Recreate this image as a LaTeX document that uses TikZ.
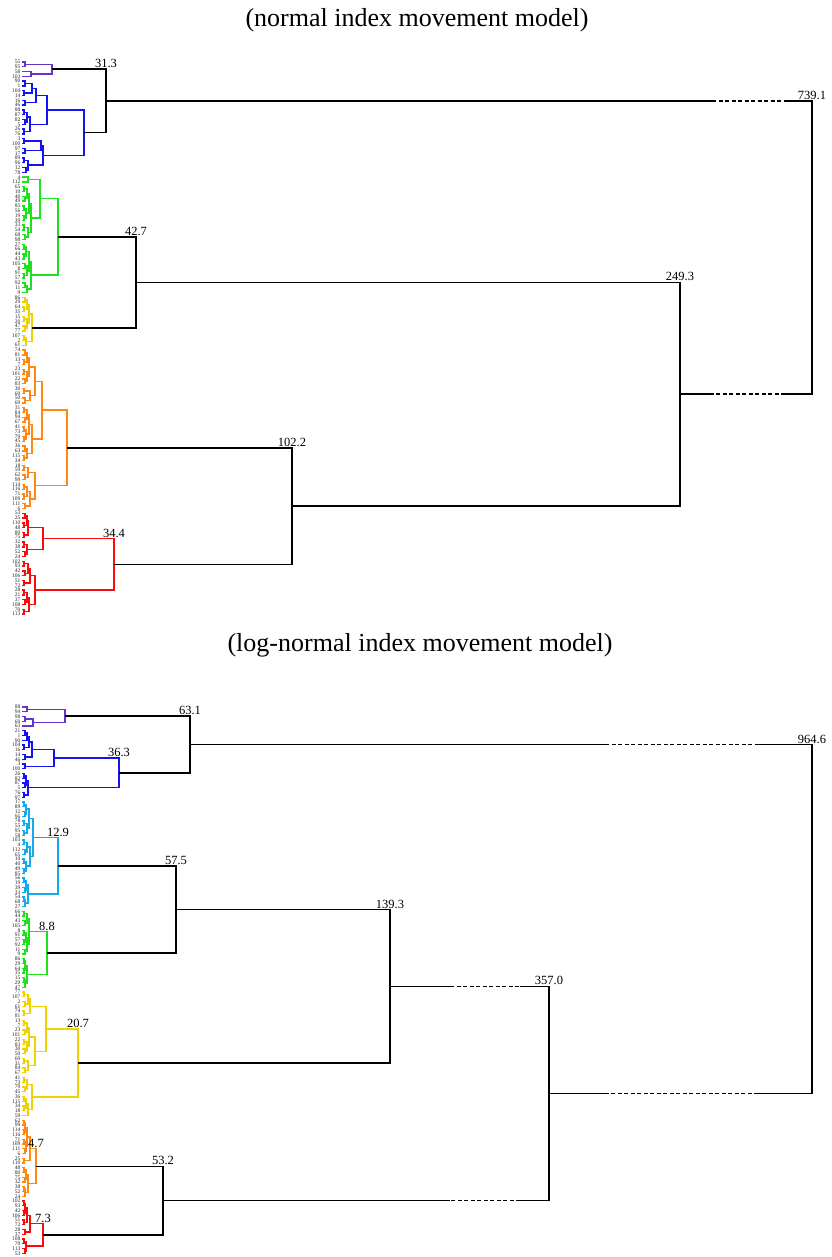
\documentclass[tikz,border=0pt]{standalone}
\usepackage{fontspec}
\setmainfont{Liberation Serif}
\usetikzlibrary{calc}

\definecolor{cpur}{RGB}{102,51,204}
\definecolor{cblu}{RGB}{20,20,240}
\definecolor{ccya}{RGB}{20,170,235}
\definecolor{cgrn}{RGB}{30,225,30}
\definecolor{cyel}{RGB}{240,210,0}
\definecolor{corg}{RGB}{255,135,20}
\definecolor{cred}{RGB}{250,10,10}

\tikzset{
  link/.style={line width=1.4pt},
  cut/.style={link,dash pattern=on 4pt off 2.5pt},
  val/.style={above,inner sep=1pt,font=\fontsize{12.5}{14}\selectfont},
  leaflab/.style={anchor=east,inner sep=0pt,xshift=-1.5pt,text=black!85,font=\fontsize{5.5}{5.5}\selectfont},
  title/.style={font=\fontsize{26}{30}\selectfont}
}

% merge node #1 at x=#2 of the children #3 (upper) and #4 (lower)
\newcommand\dlink[5]{%
  \path let \p1=(#3), \p2=(#4) in ({#2pt},{0.5*(\y1+\y2)}) coordinate (#1);
  \draw[link,#5] (#3) -| (#1) |- (#4);
}

\begin{document}
\begin{tikzpicture}[x=1pt,y=-1pt]
  \useasboundingbox (0,0) rectangle (831,1257);

  %%%%%%%% normal model
  \node[title] (ttop) at (417,20) {(normal index movement model)};

  %leaves
  \foreach \lab [count=\i from 0] in {55,95,58,103,
      90,1,104,14,16,46,88,87,82,5,26,76,3,100,97,17,89,96,12,78,
      4,112,65,10,40,49,85,56,19,39,33,54,68,98,27,66,44,43,105,8,91,57,92,11,9,
      86,29,64,35,15,20,47,77,107,2,61,
      74,81,13,7,23,101,22,83,30,60,50,69,31,84,94,67,41,73,79,45,36,63,115,34,18,59,62,99,114,116,71,109,111,6,
      53,25,110,48,80,75,32,38,52,24,102,93,42,106,51,72,28,21,37,108,70,113}
  {
    \coordinate (n\i) at (22,{62+4.8*\i});
    \node[leaflab] at (n\i) {\lab};
  }

  \foreach \nm/\xpos/\up/\dn in {n-pa/25/n0/n1, n-pb/31/n2/n3, n-P/52/n-pa/n-pb}
    \dlink{\nm}{\xpos}{\up}{\dn}{cpur};
  \foreach \nm/\xpos/\up/\dn in {n-ba/25/n4/n5, n-bb/24/n6/n7, n-bc/32/n-ba/n-bb,
      n-bd/25/n8/n9, n-be/36/n-bc/n-bd, n-bf/24/n10/n11, n-bg/25/n12/n13,
      n-bh/27/n-bf/n-bg, n-bi/24/n14/n15, n-bj/30/n-bh/n-bi, n-bk/47/n-be/n-bj,
      n-bl/24/n16/n17, n-bm/25/n18/n19, n-bn/41/n-bl/n-bm, n-bo/24/n20/n21,
      n-bp/26/n22/n23, n-bq/28/n-bo/n-bp, n-br/43/n-bn/n-bq, n-B/84/n-bk/n-br}
    \dlink{\nm}{\xpos}{\up}{\dn}{cblu};
  \foreach \nm/\xpos/\up/\dn in {n-ga/28/n24/n25, n-gb/24/n26/n27, n-gc/25/n28/n29,
      n-gd/27/n-gb/n-gc, n-ge/24/n30/n31, n-gf/24/n32/n33, n-gg/26/n-ge/n-gf,
      n-gh/29/n-gd/n-gg, n-gi/24/n34/n35, n-gj/25/n36/n37, n-gk/28/n-gi/n-gj,
      n-gl/31/n-gh/n-gk, n-gm/40/n-ga/n-gl, n-gn/24/n38/n39, n-go/24/n40/n41,
      n-gp/26/n-gn/n-go, n-gq/25/n42/n43, n-gr/24/n44/n45, n-gs/27/n-gq/n-gr,
      n-gt/29/n-gp/n-gs, n-gu/25/n46/n47, n-gv/27/n-gu/n48, n-gw/31/n-gt/n-gv,
      n-G/58/n-gm/n-gw}
    \dlink{\nm}{\xpos}{\up}{\dn}{cgrn};
  \foreach \nm/\xpos/\up/\dn in {n-ya/25/n49/n50, n-yb/24/n51/n52, n-yc/27/n-ya/n-yb,
      n-yd/24/n53/n54, n-ye/25/n55/n56, n-yf/27/n-yd/n-ye, n-yg/29/n-yc/n-yf,
      n-yh/24/n57/n58, n-yi/26/n-yh/n59, n-Y/32/n-yg/n-yi}
    \dlink{\nm}{\xpos}{\up}{\dn}{cyel};
  \foreach \nm/\xpos/\up/\dn in {n-oa/25/n60/n61, n-ob/24/n62/n63, n-oc/27/n-oa/n-ob,
      n-od/24/n64/n65, n-oe/25/n66/n67, n-of/27/n-od/n-oe, n-og/29/n-oc/n-of,
      n-oh/24/n68/n69, n-oi/25/n70/n71, n-oj/30/n-oh/n-oi, n-ok/35/n-og/n-oj,
      n-ol/24/n72/n73, n-om/25/n74/n75, n-on/27/n-ol/n-om, n-oo/24/n76/n77,
      n-op/24/n78/n79, n-oq/26/n-oo/n-op, n-or/29/n-on/n-oq, n-os/25/n80/n81,
      n-ot/24/n82/n83, n-ou/27/n-os/n-ot, n-ov/32/n-or/n-ou, n-ow/42/n-ok/n-ov,
      n-ox/24/n84/n85, n-oy/25/n86/n87, n-oz/28/n-ox/n-oy, n-o1/24/n88/n89,
      n-o2/24/n90/n91, n-o3/27/n-o1/n-o2, n-o4/25/n92/n93, n-o5/30/n-o3/n-o4,
      n-o6/35/n-oz/n-o5, n-O/67/n-ow/n-o6}
    \dlink{\nm}{\xpos}{\up}{\dn}{corg};
  \foreach \nm/\xpos/\up/\dn in {n-ra/25/n94/n95, n-rb/24/n96/n97, n-rc/27/n-ra/n-rb,
      n-rd/24/n98/n99, n-re/28/n-rc/n-rd, n-rf/24/n100/n101, n-rg/25/n102/n103,
      n-rh/27/n-rf/n-rg, n-ri/43/n-re/n-rh, n-rj/24/n104/n105, n-rk/25/n106/n107,
      n-rl/28/n-rj/n-rk, n-rm/24/n108/n109, n-rn/30/n-rl/n-rm, n-ro/24/n110/n111,
      n-rp/25/n112/n113, n-rq/27/n-ro/n-rp, n-rr/24/n114/n115, n-rs/29/n-rq/n-rr,
      n-rt/35/n-rn/n-rs, n-R/114/n-ri/n-rt}
    \dlink{\nm}{\xpos}{\up}{\dn}{cred};
  \foreach \nm/\xpos/\up/\dn in {nv313/106/n-P/n-B, nv427/136/n-G/n-Y,
      nv1022/292/n-O/n-R, nv2493/680/nv427/nv1022}
    \dlink{\nm}{\xpos}{\up}{\dn}{black};

  %root, with broken lines
  \coordinate (n-d1) at (712,0);
  \coordinate (n-d2) at (785,0);
  \path let \p1=(nv313), \p2=(nv2493) in ({812pt},{0.5*(\y1+\y2)}) coordinate (nv7391);
  \draw[link] (nv313) -- (n-d1 |- nv313);
  \draw[cut] (n-d1 |- nv313) -- (n-d2 |- nv313);
  \draw[link] (n-d2 |- nv313) -| (nv7391) |- (n-d2 |- nv2493);
  \draw[cut] (n-d2 |- nv2493) -- (n-d1 |- nv2493);
  \draw[link] (n-d1 |- nv2493) -- (nv2493);

  \node[val] at (nv313 |- n-P) {31.3};
  \node[val] at (nv427 |- n-G) {42.7};
  \node[val] at (nv1022 |- n-O) {102.2};
  \node[val] at (nv2493 |- nv427) {249.3};
  \node[val] at (nv7391 |- nv313) {739.1};
  \node[val] at (n-R |- n-ri) {34.4};

  %%%%%%%% log-normal model
  \node[title] (tbot) at (420,645) {(log-normal index movement model)};

  %leaves
  \foreach \lab [count=\i from 0] in {88,94,98,60,63,
      21,1,90,104,16,14,46,3,100,26,82,87,5,76,97,
      17,89,12,96,78,55,95,58,103,4,112,65,10,40,49,85,56,19,39,33,54,68,27,
      66,44,43,105,8,91,57,92,11,9,86,29,64,35,15,20,47,
      77,107,2,61,74,81,13,7,23,101,22,83,30,50,69,31,84,67,41,73,79,45,36,115,34,18,59,
      62,99,114,116,71,109,111,6,25,110,48,80,75,32,38,52,24,
      102,93,42,106,51,72,28,37,108,70,113,53}
  {
    \coordinate (l\i) at (22,{707+4.75*\i});
    \node[leaflab] at (l\i) {\lab};
  }

  \foreach \nm/\xpos/\up/\dn in {l-qa/27/l0/l1, l-qb/25/l2/l3, l-qc/33/l-qb/l4,
      l-Q/65/l-qa/l-qc}
    \dlink{\nm}{\xpos}{\up}{\dn}{cpur};
  \foreach \nm/\xpos/\up/\dn in {l-ua/25/l5/l6, l-ub/27/l-ua/l7, l-uc/24/l8/l9,
      l-ud/29/l-ub/l-uc, l-ue/25/l10/l11, l-uf/32/l-ud/l-ue, l-ug/25/l12/l13,
      l-U/54/l-uf/l-ug, l-va/24/l14/l15, l-vb/25/l16/l17, l-vc/26/l-va/l-vb,
      l-vd/24/l18/l19, l-V/28/l-vc/l-vd, lv363/119/l-U/l-V}
    \dlink{\nm}{\xpos}{\up}{\dn}{cblu};
  \foreach \nm/\xpos/\up/\dn in {l-ca/24/l20/l21, l-cb/25/l22/l23, l-cc/26/l-ca/l-cb,
      l-cd/24/l24/l25, l-ce/24/l26/l27, l-cf/27/l-cd/l-ce, l-cg/29/l-cc/l-cf,
      l-ch/24/l28/l29, l-ci/25/l30/l31, l-cj/27/l-ch/l-ci, l-ck/24/l32/l33,
      l-cl/24/l34/l35, l-cm/26/l-ck/l-cl, l-cn/30/l-cj/l-cm, l-co/33/l-cg/l-cn,
      l-cp/24/l36/l37, l-cq/25/l38/l39, l-cr/26/l-cp/l-cq, l-cs/24/l40/l41,
      l-ct/25/l-cs/l42, l-cu/28/l-cr/l-ct, lv129/58/l-co/l-cu}
    \dlink{\nm}{\xpos}{\up}{\dn}{ccya};
  \foreach \nm/\xpos/\up/\dn in {l-ea/24/l43/l44, l-eb/25/l45/l46, l-ec/27/l-ea/l-eb,
      l-ed/24/l47/l48, l-ee/24/l49/l50, l-ef/26/l-ed/l-ee, l-eg/25/l51/l52,
      l-eh/27/l-ef/l-eg, l-ei/29/l-ec/l-eh, l-ej/24/l53/l54, l-ek/24/l55/l56,
      l-el/25/l-ej/l-ek, l-em/24/l57/l58, l-en/25/l-em/l59, l-eo/27/l-el/l-en,
      lv88/47/l-ei/l-eo}
    \dlink{\nm}{\xpos}{\up}{\dn}{cgrn};
  \foreach \nm/\xpos/\up/\dn in {l-ya/24/l60/l61, l-yb/25/l62/l63, l-yc/28/l-ya/l-yb,
      l-yd/24/l64/l65, l-ye/30/l-yc/l-yd, l-yf/24/l66/l67, l-yg/25/l68/l69,
      l-yh/27/l-yf/l-yg, l-yi/24/l70/l71, l-yj/25/l72/l73, l-yk/27/l-yi/l-yj,
      l-yl/29/l-yh/l-yk, l-ym/24/l74/l75, l-yn/25/l76/l77, l-yo/28/l-ym/l-yn,
      l-yp/35/l-yl/l-yo, l-yq/46/l-ye/l-yp, l-yr/24/l78/l79, l-ys/25/l80/l81,
      l-yt/27/l-yr/l-ys, l-yu/24/l82/l83, l-yv/24/l84/l85, l-yw/26/l-yu/l-yv,
      l-yx/28/l-yw/l86, l-yy/32/l-yt/l-yx, lv207/78/l-yq/l-yy}
    \dlink{\nm}{\xpos}{\up}{\dn}{cyel};
  \foreach \nm/\xpos/\up/\dn in {l-oa/24/l87/l88, l-ob/24/l89/l90, l-oc/25/l-oa/l-ob,
      l-od/24/l91/l92, l-oe/25/l93/l94, l-of/26/l-od/l-oe, l-og/27/l-oc/l-of,
      l-oh/24/l95/l96, l-oi/30/l-og/l-oh, l-oj/24/l97/l98, l-ok/25/l99/l100,
      l-ol/26/l-oj/l-ok, l-om/24/l101/l102, l-on/25/l-om/l103, l-oo/28/l-ol/l-on,
      lv47/36/l-oi/l-oo}
    \dlink{\nm}{\xpos}{\up}{\dn}{corg};
  \foreach \nm/\xpos/\up/\dn in {l-ra/24/l104/l105, l-rb/24/l106/l107, l-rc/25/l-ra/l-rb,
      l-rd/24/l108/l109, l-re/27/l-rc/l-rd, l-rf/25/l110/l111, l-rg/30/l-re/l-rf,
      l-rh/24/l112/l113, l-ri/25/l114/l115, l-rj/26/l-rh/l-ri, lv73/43/l-rg/l-rj}
    \dlink{\nm}{\xpos}{\up}{\dn}{cred};
  \foreach \nm/\xpos/\up/\dn in {lv631/190/l-Q/lv363, lv575/176/lv129/lv88,
      lv1393/390/lv575/lv207, lv532/163/lv47/lv73}
    \dlink{\nm}{\xpos}{\up}{\dn}{black};

  %upper roots, with broken lines
  \coordinate (l-d1) at (450,0);
  \coordinate (l-d2) at (520,0);
  \path let \p1=(lv1393), \p2=(lv532) in ({549pt},{0.5*(\y1+\y2)}) coordinate (lv3570);
  \draw[link] (lv1393) -- (l-d1 |- lv1393);
  \draw[cut] (l-d1 |- lv1393) -- (l-d2 |- lv1393);
  \draw[link] (l-d2 |- lv1393) -| (lv3570) |- (l-d2 |- lv532);
  \draw[cut] (l-d2 |- lv532) -- (l-d1 |- lv532);
  \draw[link] (l-d1 |- lv532) -- (lv532);

  \coordinate (l-d3) at (605,0);
  \coordinate (l-d4) at (758,0);
  \path let \p1=(lv631), \p2=(lv3570) in ({812pt},{0.5*(\y1+\y2)}) coordinate (lv9646);
  \draw[link] (lv631) -- (l-d3 |- lv631);
  \draw[cut] (l-d3 |- lv631) -- (l-d4 |- lv631);
  \draw[link] (l-d4 |- lv631) -| (lv9646) |- (l-d4 |- lv3570);
  \draw[cut] (l-d4 |- lv3570) -- (l-d3 |- lv3570);
  \draw[link] (l-d3 |- lv3570) -- (lv3570);

  \node[val] at (lv631 |- l-Q) {63.1};
  \node[val] at (lv363 |- l-U) {36.3};
  \node[val] at (lv129 |- l-co) {12.9};
  \node[val] at (lv575 |- lv129) {57.5};
  \node[val] at (lv1393 |- lv575) {139.3};
  \node[val] at (lv88 |- l-ei) {8.8};
  \node[val] at (lv207 |- l-yq) {20.7};
  \node[val] at (lv3570 |- lv1393) {357.0};
  \node[val] at (lv9646 |- lv631) {964.6};
  \node[val] at (lv47 |- l-oi) {4.7};
  \node[val] at (lv532 |- lv47) {53.2};
  \node[val] at (lv73 |- l-rg) {7.3};
\end{tikzpicture}
\end{document}
